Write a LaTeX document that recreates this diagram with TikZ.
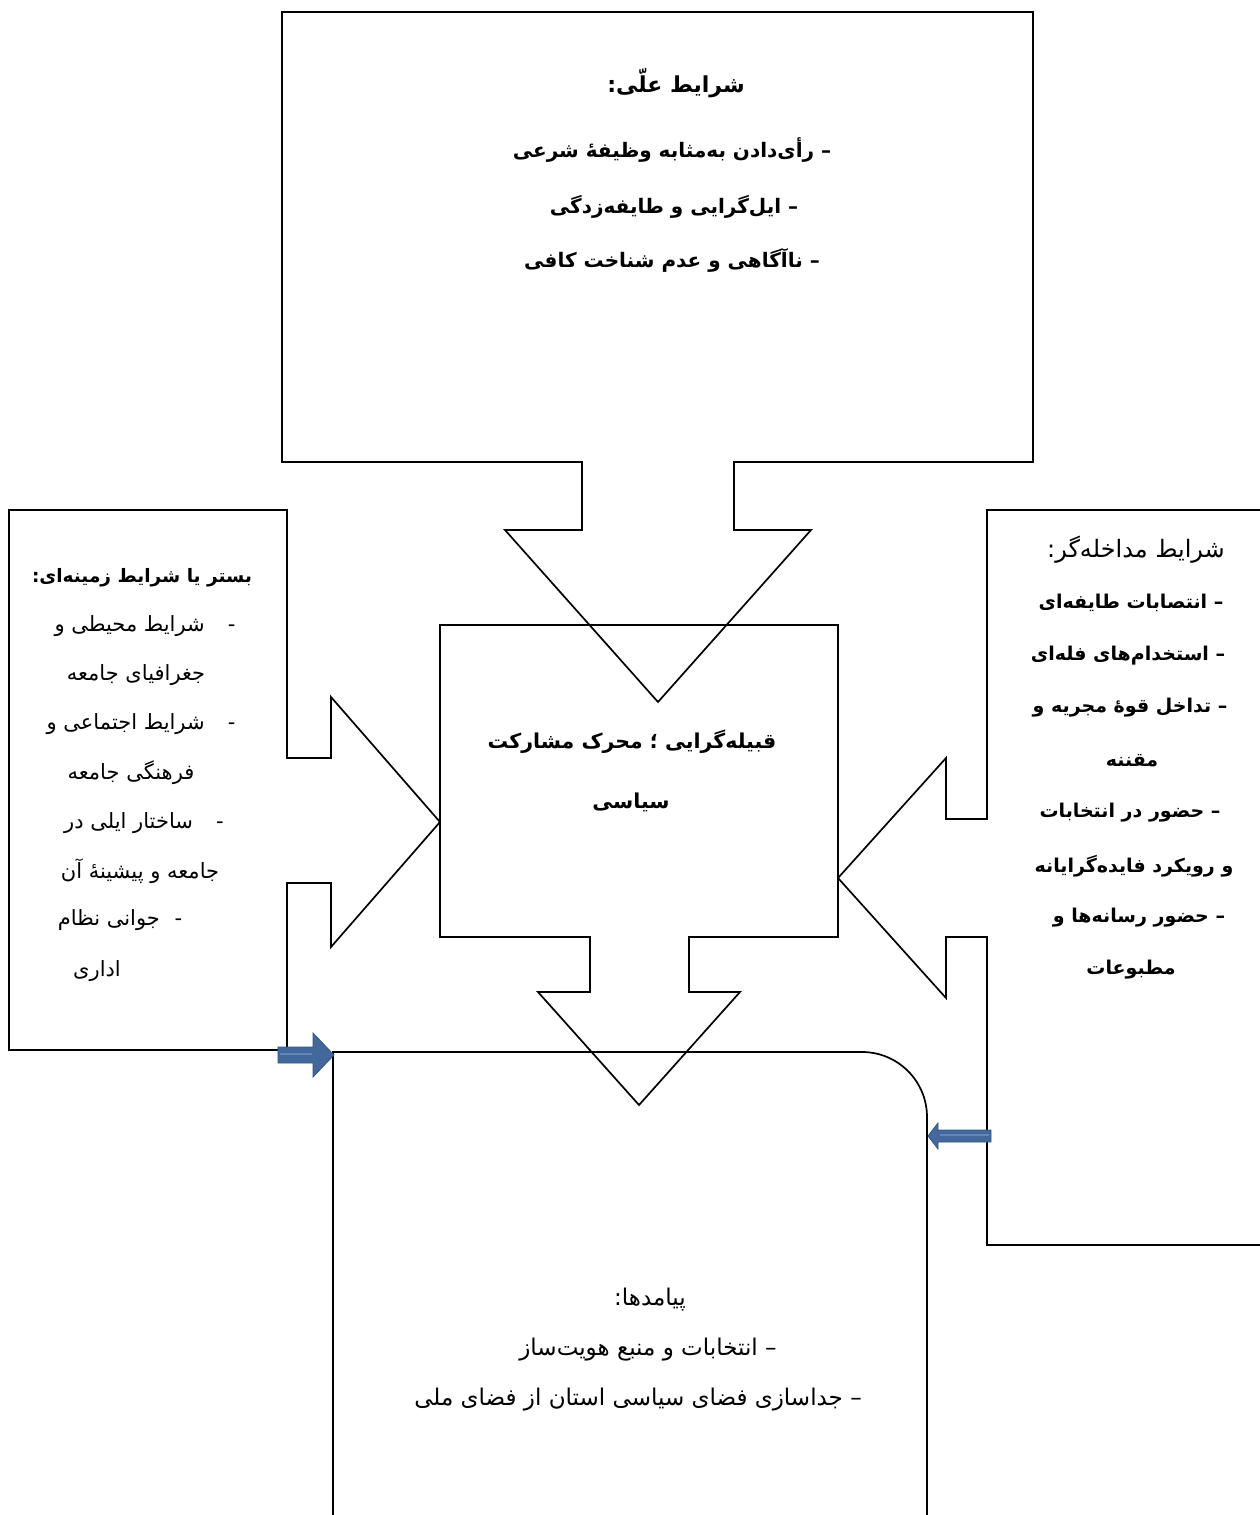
\documentclass[tikz,border=0pt]{standalone}
\usepackage{fontspec}
\TeXXeTstate=1
\newfontfamily\arfont[Script=Arabic]{DejaVu Sans}
\newcommand\rtl[1]{\beginR #1\endR}
\definecolor{arrowfill}{RGB}{66,104,156}
\definecolor{arrowline}{RGB}{52,86,130}
\definecolor{arrowlite}{RGB}{98,134,186}
\begin{document}
\begin{tikzpicture}[x=1pt,y=-1pt,
  outline/.style={draw=black,line width=1.7pt,line join=miter},
  bluearrow/.style={fill=arrowfill,draw=arrowline,line width=0.8pt},
  rgl/.style={inner sep=0pt,font=\arfont\fontsize{21}{24}\selectfont},
  rgb/.style={inner sep=0pt,font=\arfont\fontsize{23}{26}\selectfont},
  rgt/.style={inner sep=0pt,font=\arfont\fontsize{24}{27}\selectfont},
  bdr/.style={inner sep=0pt,font=\arfont\bfseries\fontsize{19}{22}\selectfont},
  bdt/.style={inner sep=0pt,font=\arfont\bfseries\fontsize{20}{23}\selectfont},
  bdtitle/.style={inner sep=0pt,font=\arfont\bfseries\fontsize{22}{25}\selectfont},
  bdl/.style={inner sep=0pt,font=\arfont\bfseries\fontsize{18.5}{22}\selectfont},
  bdmid/.style={inner sep=0pt,font=\arfont\bfseries\fontsize{20.5}{24}\selectfont}]
\useasboundingbox (0,0) rectangle (1259,1515);
\fill[white] (0,0) rectangle (1259,1515);

% top callout (causal conditions)
\draw[outline] (282,12) -- (1033,12) -- (1033,462) -- (734,462) -- (734,530) -- (811,530)
  -- (658,702) -- (505,530) -- (582,530) -- (582,462) -- (282,462) -- cycle;
% centre callout
\draw[outline] (440,625) -- (838,625) -- (838,937) -- (689,937) -- (689,992) -- (740,992)
  -- (639,1105) -- (538,992) -- (590,992) -- (590,937) -- (440,937) -- cycle;
% left callout
\draw[outline] (9,510) -- (287,510) -- (287,758) -- (331,758) -- (331,697) -- (440,822)
  -- (331,947) -- (331,883) -- (287,883) -- (287,1050) -- (9,1050) -- cycle;
% right callout
\draw[outline] (1265,510) -- (987,510) -- (987,819) -- (946,819) -- (946,758) -- (838,878)
  -- (946,998) -- (946,937) -- (987,937) -- (987,1245) -- (1265,1245);
% bottom box with one rounded corner
\draw[outline] (333,1520) -- (333,1052) -- (862,1052)
  .. controls (897.9,1052) and (927,1081.1) .. (927,1117) -- (927,1520);

% blue arrows
\draw[bluearrow] (278,1047) -- (313,1047) -- (313,1033) -- (334,1055) -- (313,1077)
  -- (313,1063) -- (278,1063) -- cycle;
\draw[arrowlite,line width=1.2pt] (280,1054) -- (312,1054);
\draw[bluearrow] (991,1130) -- (938,1130) -- (938,1123) -- (928,1136) -- (938,1149)
  -- (938,1142) -- (991,1142) -- cycle;
\draw[arrowlite,line width=1.2pt] (940,1135) -- (989,1135);

% top box text
\node[bdtitle] (t0) at (676,83) {\rtl{شرایط علّی:}};
\node[bdt] (t1) at (672,150) {\rtl{– رأی^^^^200cدادن به^^^^200cمثابه وظیفه^^^^0654 شرعی}};
\node[bdt] (t2) at (674,207) {\rtl{– ایل^^^^200cگرایی و طایفه^^^^200cزدگی}};
\node[bdt] (t3) at (672,260) {\rtl{– ناآگاهی و عدم شناخت کافی}};

% centre box text
\node[bdmid] (c1) at (632,742) {\rtl{قبیله^^^^200cگرایی ؛ محرک مشارکت}};
\node[bdmid] (c2) at (631,802) {\rtl{سیاسی}};

% left box text
\node[bdl] (l0) at (142,578) {\rtl{بستر یا شرایط زمینه^^^^200cای:}};
\node[rgl] (l1) at (145,626) {\rtl{-\hspace{1.1em}شرایط محیطی و}};
\node[rgl] (l2) at (136,675) {\rtl{جغرافیای جامعه}};
\node[rgl] (l3) at (141,724) {\rtl{-\hspace{1.1em}شرایط اجتماعی و}};
\node[rgl] (l4) at (131,773) {\rtl{فرهنگی جامعه}};
\node[rgl] (l5) at (144,823) {\rtl{-\hspace{1.1em}ساختار ایلی در}};
\node[rgl] (l6) at (140,871) {\rtl{جامعه و پیشینه^^^^0654 آن}};
\node[rgl] (l7) at (120,920) {\rtl{-\hspace{0.7em}جوانی نظام}};
\node[rgl] (l8) at (97,971) {\rtl{اداری}};

% right box text
\node[rgt] (r0) at (1136,550) {\rtl{شرایط مداخله^^^^200cگر:}};
\node[bdr] (r1) at (1131,603) {\rtl{– انتصابات طایفه^^^^200cای}};
\node[bdr] (r2) at (1128,656) {\rtl{– استخدام^^^^200cهای فله^^^^200cای}};
\node[bdr] (r3) at (1130,708) {\rtl{– تداخل قوه^^^^0654 مجریه و}};
\node[bdr] (r4) at (1132,761) {\rtl{مقننه}};
\node[bdr] (r5) at (1130,813) {\rtl{– حضور در انتخابات}};
\node[bdr] (r6) at (1134,866) {\rtl{و رویکرد فایده^^^^200cگرایانه}};
\node[bdr] (r7) at (1139,918) {\rtl{– حضور رسانه^^^^200cها و}};
\node[bdr] (r8) at (1131,970) {\rtl{مطبوعات}};

% bottom box text
\node[rgb] (b0) at (650,1300) {\rtl{پیامدها:}};
\node[rgb] (b1) at (648,1350) {\rtl{– انتخابات و منبع هویت^^^^200cساز}};
\node[rgb] (b2) at (638,1400) {\rtl{– جداسازی فضای سیاسی استان از فضای ملی}};
\end{tikzpicture}
\end{document}
